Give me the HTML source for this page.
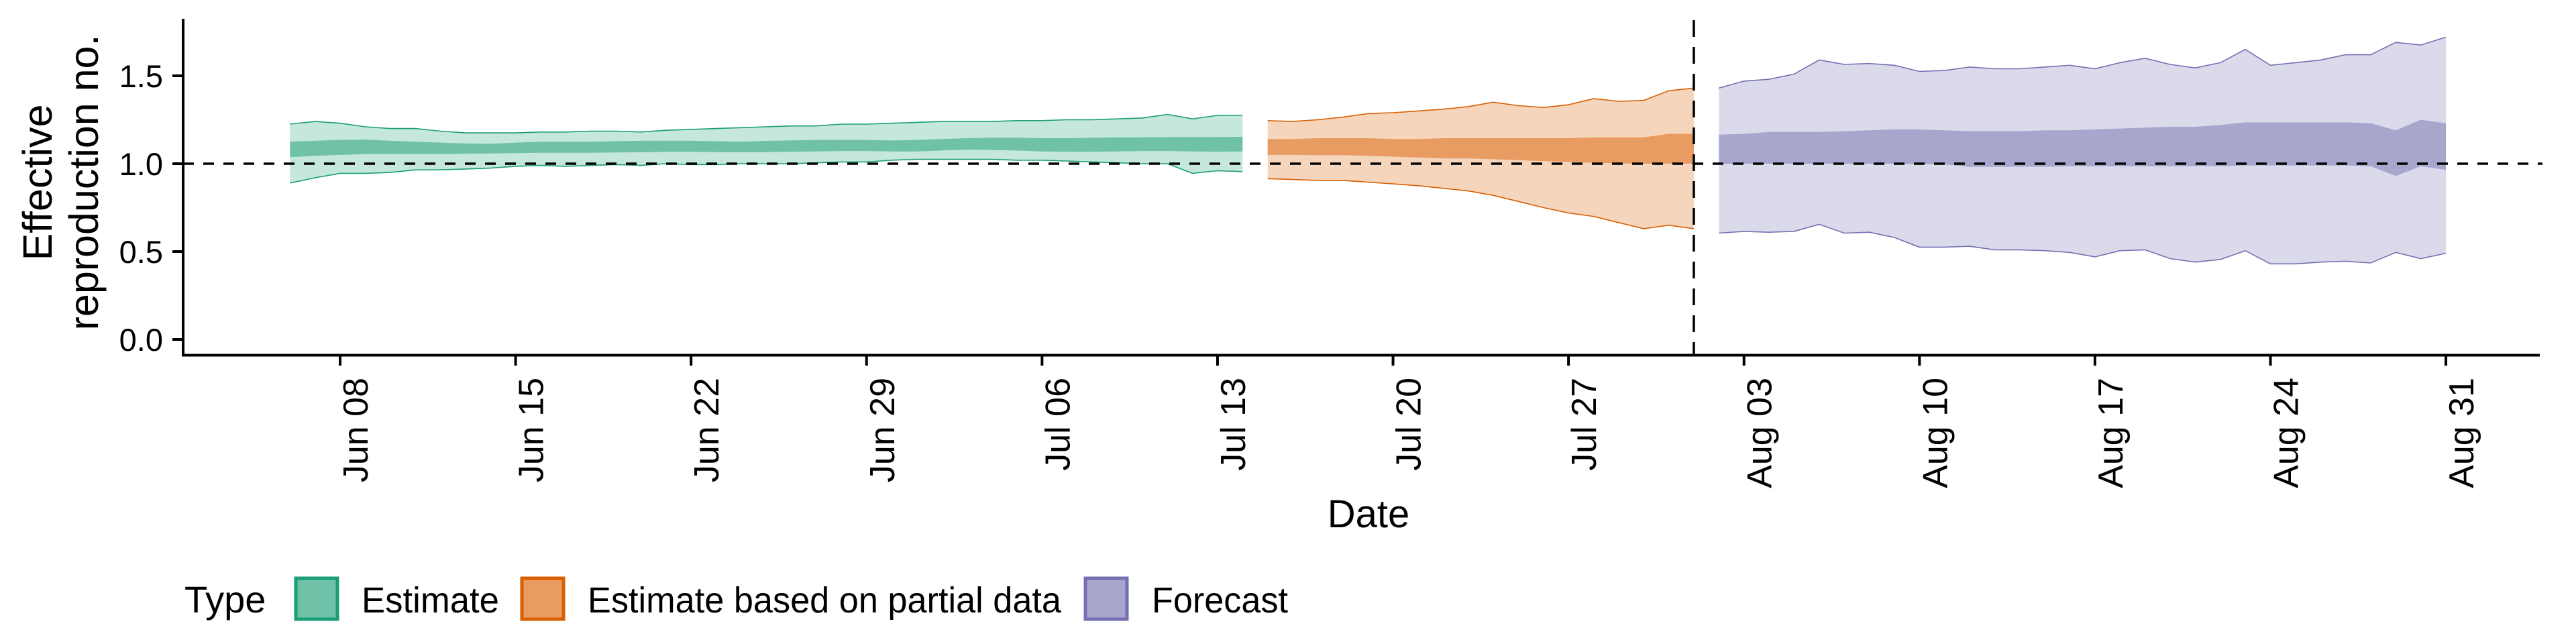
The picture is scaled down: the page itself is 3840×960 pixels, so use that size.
<!DOCTYPE html>
<html><head><meta charset="utf-8"><style>
html,body{margin:0;padding:0;background:#fff;}
svg{display:block;font-family:"Liberation Sans",Arial,sans-serif;}
</style></head><body>
<svg id="chart" width="3840" height="960" viewBox="0 0 3840 960" xmlns="http://www.w3.org/2000/svg">
<g id="bands"></g>
<g id="axes"></g>
<text x="2040" y="786" font-size="58" text-anchor="middle">Date</text>
<g transform="translate(0,272) rotate(-90)">
<text x="0" y="77" font-size="61" text-anchor="middle">Effective</text>
<text x="0" y="146" font-size="61" text-anchor="middle">reproduction no.</text>
</g>
<g>
<text x="275" y="913" font-size="56">Type</text>
<rect x="441" y="862" width="62" height="61" fill="#6fc2a8" stroke="#1b9e77" stroke-width="5"/>
<text x="539" y="913" font-size="54" textLength="205" lengthAdjust="spacingAndGlyphs">Estimate</text>
<rect x="778" y="862" width="62" height="61" fill="#e89c62" stroke="#d95f02" stroke-width="5"/>
<text x="876" y="913" font-size="54" textLength="706" lengthAdjust="spacingAndGlyphs">Estimate based on partial data</text>
<rect x="1618" y="862" width="62" height="61" fill="#a8a6cd" stroke="#7570b3" stroke-width="5"/>
<text x="1717" y="913" font-size="54" textLength="203" lengthAdjust="spacingAndGlyphs">Forecast</text>
</g>
</svg>
<script>
// Day offsets are relative to Jun 08
const tickDays = [0,7,14,21,28,35,42,49,56,63,70,77,84];
const tickLabels = ["Jun 08","Jun 15","Jun 22","Jun 29","Jul 06","Jul 13","Jul 20","Jul 27","Aug 03","Aug 10","Aug 17","Aug 24","Aug 31"];
const yTicks = [0.0,0.5,1.0,1.5];
const yTickLabels = ["0.0","0.5","1.0","1.5"];
const cutoffDay = 54;

const estStart = -2;
const estUpper90 = [1.225,1.24,1.23,1.21,1.20,1.20,1.185,1.175,1.175,1.175,1.18,1.18,1.185,1.185,1.18,1.19,1.195,1.20,1.205,1.21,1.215,1.215,1.225,1.225,1.23,1.235,1.24,1.24,1.24,1.245,1.245,1.25,1.25,1.255,1.26,1.28,1.255,1.275,1.275];
const estLower90 = [0.89,0.92,0.945,0.945,0.95,0.965,0.965,0.97,0.975,0.985,0.99,0.985,0.99,0.995,0.99,1.0,0.995,0.995,1.0,1.0,1.0,1.005,1.01,1.01,1.02,1.025,1.025,1.025,1.025,1.02,1.02,1.015,1.01,1.005,1.0,1.0,0.945,0.96,0.955];
const estUpper50 = [1.125,1.13,1.135,1.137,1.13,1.125,1.12,1.115,1.113,1.12,1.125,1.125,1.125,1.128,1.13,1.13,1.13,1.128,1.125,1.13,1.132,1.135,1.135,1.135,1.132,1.135,1.14,1.145,1.148,1.148,1.145,1.145,1.148,1.15,1.15,1.152,1.152,1.152,1.153];
const estLower50 = [1.037,1.045,1.05,1.055,1.055,1.055,1.055,1.057,1.058,1.06,1.062,1.062,1.062,1.064,1.065,1.067,1.067,1.066,1.065,1.066,1.068,1.07,1.072,1.072,1.07,1.07,1.075,1.08,1.078,1.075,1.07,1.068,1.068,1.07,1.072,1.072,1.07,1.068,1.07];

const partStart = 37;
const partUpper90 = [1.245,1.24,1.25,1.265,1.285,1.29,1.30,1.31,1.325,1.35,1.33,1.32,1.335,1.37,1.355,1.36,1.415,1.43];
const partLower90 = [0.915,0.91,0.905,0.905,0.895,0.885,0.875,0.86,0.845,0.82,0.785,0.75,0.72,0.70,0.665,0.63,0.65,0.63];
const partUpper50 = [1.14,1.14,1.145,1.145,1.145,1.14,1.14,1.145,1.145,1.145,1.145,1.145,1.145,1.15,1.15,1.15,1.17,1.17];
const partLower50 = [1.05,1.05,1.048,1.048,1.045,1.04,1.035,1.03,1.03,1.025,1.02,1.015,1.01,1.005,1.002,1.0,1.0,1.0];

const fcStart = 55;
const fcUpper90 = [1.43,1.47,1.48,1.51,1.59,1.565,1.57,1.56,1.525,1.53,1.55,1.54,1.54,1.55,1.56,1.54,1.575,1.60,1.565,1.545,1.575,1.65,1.56,1.575,1.59,1.62,1.62,1.69,1.675,1.72];
const fcLower90 = [0.605,0.615,0.61,0.615,0.655,0.605,0.61,0.58,0.525,0.525,0.53,0.51,0.51,0.505,0.495,0.47,0.505,0.51,0.46,0.44,0.455,0.505,0.43,0.43,0.44,0.445,0.435,0.495,0.46,0.49];
const fcUpper50 = [1.165,1.17,1.18,1.18,1.18,1.185,1.19,1.195,1.195,1.19,1.185,1.185,1.185,1.19,1.19,1.195,1.2,1.205,1.21,1.21,1.22,1.235,1.235,1.235,1.235,1.235,1.23,1.19,1.25,1.23];
const fcLower50 = [1.0,1.0,1.0,1.0,1.0,1.0,1.0,1.0,0.998,0.995,0.982,0.982,0.983,0.983,0.985,0.985,0.985,0.985,0.985,0.985,0.985,0.99,0.99,0.99,0.99,0.99,0.985,0.93,0.985,0.965];

const NS = "http://www.w3.org/2000/svg";
const X0 = 507, PXDAY = 37.37, Y0 = 506, PXUNIT = 262;
function xs(d){ return X0 + d*PXDAY; }
function ys(v){ return Y0 - v*PXUNIT; }
function mk(tag, attrs, parent){
  const e = document.createElementNS(NS, tag);
  for (const k in attrs) e.setAttribute(k, attrs[k]);
  parent.appendChild(e); return e;
}
function bandPath(start, up, lo){
  let p = "";
  up.forEach((v,i)=>{ p += (i?"L":"M") + xs(start+i).toFixed(1) + "," + ys(v).toFixed(1); });
  for (let i = lo.length-1; i >= 0; i--) p += "L" + xs(start+i).toFixed(1) + "," + ys(lo[i]).toFixed(1);
  return p + "Z";
}
function linePath(start, arr){
  return arr.map((v,i)=>(i?"L":"M") + xs(start+i).toFixed(1) + "," + ys(v).toFixed(1)).join("");
}
const bands = document.getElementById("bands");
const groups = [
  ["estimate", estStart, estUpper90, estLower90, estUpper50, estLower50, "#c5e7dc", "#6fc2a8", "#1b9e77"],
  ["partial", partStart, partUpper90, partLower90, partUpper50, partLower50, "#f5d6bd", "#e89c62", "#d95f02"],
  ["forecast", fcStart, fcUpper90, fcLower90, fcUpper50, fcLower50, "#dbdaeb", "#a8a6cd", "#7570b3"]
];
groups.forEach(g=>{
  const o = mk("path", {d: bandPath(g[1], g[2], g[3]), fill: g[6]}, bands);
  
  
  const i = mk("path", {d: bandPath(g[1], g[4], g[5]), fill: g[7]}, bands);
  
  
  const u = mk("path", {d: linePath(g[1], g[2]), fill: "none", stroke: g[8], "stroke-width": 1.6}, bands);
  
  
  const l = mk("path", {d: linePath(g[1], g[3]), fill: "none", stroke: g[8], "stroke-width": 1.6}, bands);
  
  
});
const axes = document.getElementById("axes");
const ref = mk("line", {x1: 273, x2: 3790, y1: ys(1), y2: ys(1), stroke: "#000", "stroke-width": 3.5, "stroke-dasharray": "16 14"}, axes);


const cut = mk("line", {x1: xs(cutoffDay), x2: xs(cutoffDay), y1: 30, y2: 529, stroke: "#000", "stroke-width": 3.5, "stroke-dasharray": "25 15"}, axes);


const ya = mk("line", {x1: 273, x2: 273, y1: 28, y2: 531, stroke: "#000", "stroke-width": 4}, axes);


const xa = mk("line", {x1: 271, x2: 3786, y1: 529.5, y2: 529.5, stroke: "#000", "stroke-width": 4}, axes);


yTicks.forEach((v,i)=>{
  const t = mk("line", {x1: 257, x2: 273, y1: ys(v), y2: ys(v), stroke: "#000", "stroke-width": 4}, axes);
  
  
  const tx = mk("text", {x: 243, y: ys(v)+17, "font-size": 47, "text-anchor": "end"}, axes);
  
  
  tx.textContent = yTickLabels[i];
});
tickDays.forEach((d,i)=>{
  const x = xs(d);
  const t = mk("line", {x1: x, x2: x, y1: 529, y2: 545, stroke: "#000", "stroke-width": 4}, axes);
  
  
  const tx = mk("text", {transform: "translate(" + (x+41) + ",563) rotate(-90)", "font-size": 52, "text-anchor": "end"}, axes);
  
  
  tx.textContent = tickLabels[i];
});
</script>
</body></html>
